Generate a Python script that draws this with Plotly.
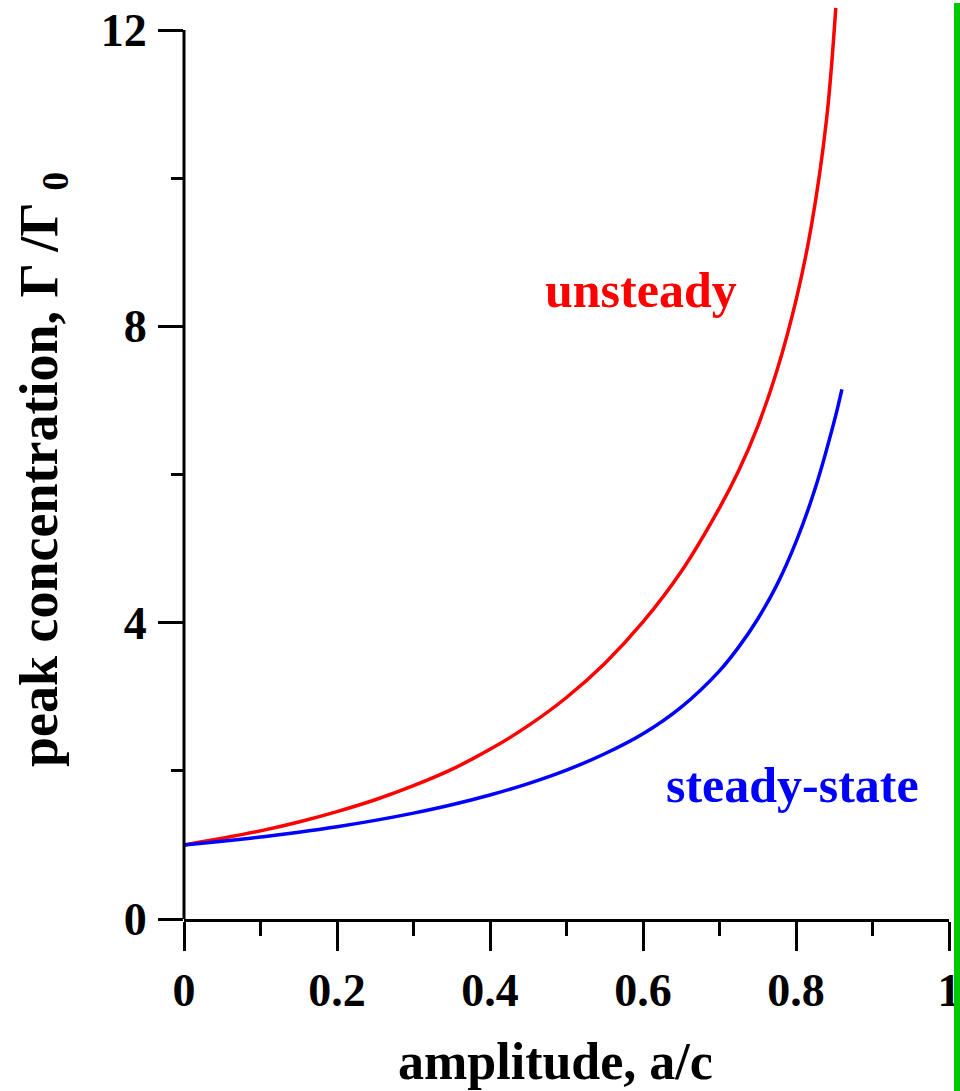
import plotly.graph_objects as go

# data
amp_unsteady = [0, 0.05, 0.1, 0.15, 0.2, 0.25, 0.3, 0.35, 0.4, 0.45, 0.5, 0.55, 0.6,
                0.65, 0.7, 0.725, 0.75, 0.775, 0.8, 0.82, 0.84, 0.852]
peak_unsteady = [1.0, 1.09, 1.19, 1.31, 1.45, 1.61, 1.80, 2.02, 2.29, 2.61, 2.99, 3.45, 4.01,
                 4.69, 5.55, 6.05, 6.65, 7.4, 8.35, 9.35, 10.8, 12.3]

amp_steady = [0, 0.05, 0.1, 0.15, 0.2, 0.25, 0.3, 0.35, 0.4, 0.45, 0.5, 0.55, 0.6,
              0.65, 0.7, 0.725, 0.75, 0.775, 0.8, 0.825, 0.85, 0.86]
peak_steady = [1.0, 1.05, 1.107, 1.172, 1.246, 1.331, 1.429, 1.542, 1.674, 1.828, 2.01, 2.23,
               2.50, 2.86, 3.35, 3.67, 4.05, 4.51, 5.09, 5.81, 6.72, 7.15]

x_tickvals = [0, 0.2, 0.4, 0.6, 0.8, 1]
x_ticktext = ["0", "0.2", "0.4", "0.6", "0.8", "1"]
x_minor = [0.1, 0.3, 0.5, 0.7, 0.9]
y_tickvals = [0, 4, 8, 12]
y_ticktext = ["0", "4", "8", "12"]
y_minor = [2, 6, 10]

SERIF = "Liberation Serif, Times New Roman, serif"

fig = go.Figure()
fig.add_trace(go.Scatter(x=amp_unsteady, y=peak_unsteady, mode="lines",
                         line=dict(color="#ff0000", width=3.5, shape="spline", smoothing=1.0),
                         showlegend=False))
fig.add_trace(go.Scatter(x=amp_steady, y=peak_steady, mode="lines",
                         line=dict(color="#0000ff", width=3.5, shape="spline", smoothing=1.0),
                         showlegend=False))

tickfont = dict(family=SERIF, size=46, color="black", weight="bold")

fig.update_layout(
    width=960, height=1091,
    margin=dict(l=184, r=11, t=0, b=172, pad=0),
    paper_bgcolor="white", plot_bgcolor="white",
    xaxis=dict(range=[0, 1], tickmode="array", tickvals=x_tickvals, ticktext=x_ticktext,
               ticks="outside", ticklen=29, tickwidth=3, tickcolor="black",
               showline=True, linewidth=3, linecolor="black",
               showgrid=False, zeroline=False, tickfont=tickfont,
               ticklabeloverflow="allow",
               minor=dict(tickmode="array", tickvals=x_minor, ticks="outside",
                          ticklen=14, tickwidth=3, tickcolor="black", showgrid=False)),
    yaxis=dict(range=[0, 12.405], tickmode="array", tickvals=y_tickvals, ticktext=y_ticktext,
               ticks="outside", ticklen=25, tickwidth=3, tickcolor="black",
               showline=False, showgrid=False, zeroline=False, tickfont=tickfont,
               ticklabelstandoff=2, ticklabeloverflow="allow",
               minor=dict(tickmode="array", tickvals=y_minor, ticks="outside",
                          ticklen=12, tickwidth=3, tickcolor="black", showgrid=False)),
    shapes=[
        dict(type="line", xref="paper", yref="y", x0=0, x1=0, y0=0, y1=12,
             line=dict(color="black", width=3)),
        dict(type="rect", xref="paper", yref="paper", x0=1.00654, x1=1.0144,
             y0=-0.1872, y1=0.9967, fillcolor="#00c800", line=dict(width=0), layer="above"),
    ],
    annotations=[
        dict(text="unsteady", x=0.597, y=8.49, xref="x", yref="y", showarrow=False,
             xanchor="center", yanchor="middle",
             font=dict(family=SERIF, size=50, color="#ff0000", weight="bold")),
        dict(text="steady-state", x=0.795, y=1.81, xref="x", yref="y", showarrow=False,
             xanchor="center", yanchor="middle",
             font=dict(family=SERIF, size=50, color="#0000ff", weight="bold")),
        dict(text="amplitude, a/c", x=0.486, y=-0.1556, xref="paper", yref="paper",
             showarrow=False, xanchor="center", yanchor="middle",
             font=dict(family=SERIF, size=52, color="black", weight="bold")),
        dict(text="peak concentration, Γ /Γ <sub>0</sub>", x=-0.1843, y=0.4886,
             xref="paper", yref="paper", showarrow=False, textangle=-90,
             xanchor="center", yanchor="middle",
             font=dict(family=SERIF, size=54, color="black", weight="bold")),
    ],
)

fig.write_html(
    "out.html",
    config={"displayModeBar": False},
    post_script="document.body.style.margin='0';document.body.style.padding='0';"
                "document.body.style.overflow='hidden';",
)
